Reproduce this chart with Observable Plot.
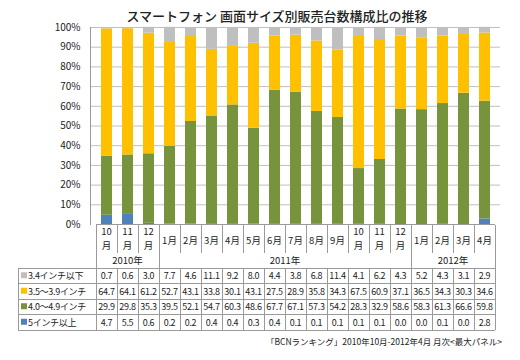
<!DOCTYPE html>
<html><head><meta charset="utf-8">
<script src="https://cdn.jsdelivr.net/npm/d3@7"></script>
<script src="https://cdn.jsdelivr.net/npm/@observablehq/plot@0.6"></script>
<style>
body{margin:0;background:#fff;}
#chart svg{display:block;}
</style></head><body><div id="chart"></div>
<script>
const title = "スマートフォン 画面サイズ別販売台数構成比の推移";
const caption = "「BCNランキング」2010年10月-2012年4月 月次<最大パネル>";
const months = ["2010-10","2010-11","2010-12","2011-01","2011-02","2011-03","2011-04","2011-05","2011-06","2011-07","2011-08","2011-09","2011-10","2011-11","2011-12","2012-01","2012-02","2012-03","2012-04"];
const monthLabels = ["10\n月","11\n月","12\n月","1月","2月","3月","4月","5月","6月","7月","8月","9月","10\n月","11\n月","12\n月","1月","2月","3月","4月"];
const yearLabels = ["2010年","2011年","2012年"];
const yearStart = [0, 3, 15];
const yearEnd = [3, 15, 19];
const seriesNames = ["3.4インチ以下","3.5～3.9インチ","4.0～4.9インチ","5インチ以上"];
const seriesColors = ["#BFBFBF","#FFC000","#77933C","#4F81BD"];
const s34 = [0.7,0.6,3.0,7.7,4.6,11.1,9.2,8.0,4.4,3.8,6.8,11.4,4.1,6.2,4.3,5.2,4.3,3.1,2.9];
const s35 = [64.7,64.1,61.2,52.7,43.1,33.8,30.1,43.1,27.5,28.9,35.8,34.3,67.5,60.9,37.1,36.5,34.3,30.3,34.6];
const s40 = [29.9,29.8,35.3,39.5,52.1,54.7,60.3,48.6,67.7,67.1,57.3,54.2,28.3,32.9,58.6,58.3,61.3,66.6,59.8];
const s5  = [4.7,5.5,0.6,0.2,0.2,0.4,0.4,0.3,0.4,0.1,0.1,0.1,0.1,0.1,0.0,0.0,0.1,0.0,2.8];
const seriesValues = [s34, s35, s40, s5];
const yTicks = [0,10,20,30,40,50,60,70,80,90,100];

const data = [];
months.forEach((m, i) => {
  for (let k = seriesNames.length - 1; k >= 0; k--) {
    data.push({month: m, series: seriesNames[k], value: seriesValues[k][i]});
  }
});

const font = "'Noto Sans CJK JP', 'Noto Sans', sans-serif";
const chart = Plot.plot({
  width: 520, height: 360,
  marginTop: 27, marginBottom: 136, marginLeft: 90, marginRight: 20,
  style: {fontFamily: font, fontSize: "10px", color: "#222", background: "#fff"},
  x: {domain: months, paddingInner: 0.48, paddingOuter: 0.24, axis: null},
  y: {domain: [0, 100], label: null},
  color: {domain: seriesNames, range: seriesColors},
  marks: [
    Plot.ruleY(yTicks.filter(d => d > 0), {stroke: "#BFBFBF"}),
    Plot.barY(data, {x: "month", y: "value", fill: "series", order: seriesNames.slice().reverse()}),
    Plot.axisY({ticks: yTicks, tickFormat: d => d + "%", tickSize: 0, tickPadding: 10, fontSize: 10, label: null}),
    Plot.frame({anchor: "left", stroke: "#9a9a9a"})
  ]
});
document.getElementById("chart").appendChild(chart);

const svg = d3.select(chart);
const xs = chart.scale("x");
const step = xs.step, bw = xs.bandwidth;
const edge = i => i < months.length ? xs.apply(months[i]) + bw / 2 - step / 2 : xs.apply(months[months.length - 1]) + bw / 2 + step / 2;
const center = i => xs.apply(months[i]) + bw / 2;

const base = 224.5, sepBottom = 253, tableTop = 268, rowH = 15.5, tableLeft = 18;
const rows = seriesNames.map((_, k) => tableTop + k * rowH);
const tableBottom = tableTop + 4 * rowH;
const xLeft = edge(0), xRight = edge(months.length);
const g = svg.append("g").attr("stroke", "#9a9a9a").attr("stroke-width", 1).attr("shape-rendering", "crispEdges");
const line = (x1, y1, x2, y2) => g.append("line").attr("x1", x1).attr("y1", y1).attr("x2", x2).attr("y2", y2);
line(xLeft, base, xRight, base);
for (let k = 0; k <= 4; k++) line(tableLeft, tableTop + k * rowH, xRight, tableTop + k * rowH);
line(tableLeft, tableTop, tableLeft, tableBottom);
line(xLeft, base, xLeft, tableBottom);
for (let i = 1; i <= months.length; i++) {
  const x = edge(i);
  if (yearEnd.includes(i)) line(x, base, x, tableBottom);
  else { line(x, base, x, sepBottom); line(x, tableTop, x, tableBottom); }
}

const t = svg.append("g").attr("font-family", font).attr("fill", "#222");
monthLabels.forEach((lab, i) => {
  const parts = lab.split("\n");
  parts.forEach((p, j) => {
    t.append("text").attr("x", center(i))
      .attr("y", parts.length === 1 ? 240 : 231 + j * 14)
      .attr("text-anchor", "middle").attr("dominant-baseline", "central")
      .attr("font-size", 9.5).text(p);
  });
});
yearLabels.forEach((lab, k) => {
  t.append("text").attr("x", (edge(yearStart[k]) + edge(yearEnd[k])) / 2).attr("y", 260)
    .attr("text-anchor", "middle").attr("dominant-baseline", "central").attr("font-size", 9.5).text(lab);
});
seriesNames.forEach((name, k) => {
  const cy = rows[k] + rowH / 2;
  t.append("rect").attr("x", 21).attr("y", cy - 3.5).attr("width", 6).attr("height", 6).attr("fill", seriesColors[k]);
  t.append("text").attr("x", 28).attr("y", cy).attr("text-anchor", "start").attr("dominant-baseline", "central").attr("font-size", 9).attr("letter-spacing", -0.3).text(name);
  seriesValues[k].forEach((v, i) => {
    t.append("text").attr("x", center(i)).attr("y", cy).attr("text-anchor", "middle")
      .attr("dominant-baseline", "central").attr("font-size", 9).attr("letter-spacing", -0.3).text(v.toFixed(1));
  });
});
t.append("text").attr("x", 277).attr("y", 15).attr("text-anchor", "middle").attr("dominant-baseline", "central")
  .attr("font-size", 13).attr("font-weight", 500).text(title);
t.append("text").attr("x", 502).attr("y", 341).attr("text-anchor", "end").attr("dominant-baseline", "central")
  .attr("font-size", 8.5).text(caption);
</script></body></html>
